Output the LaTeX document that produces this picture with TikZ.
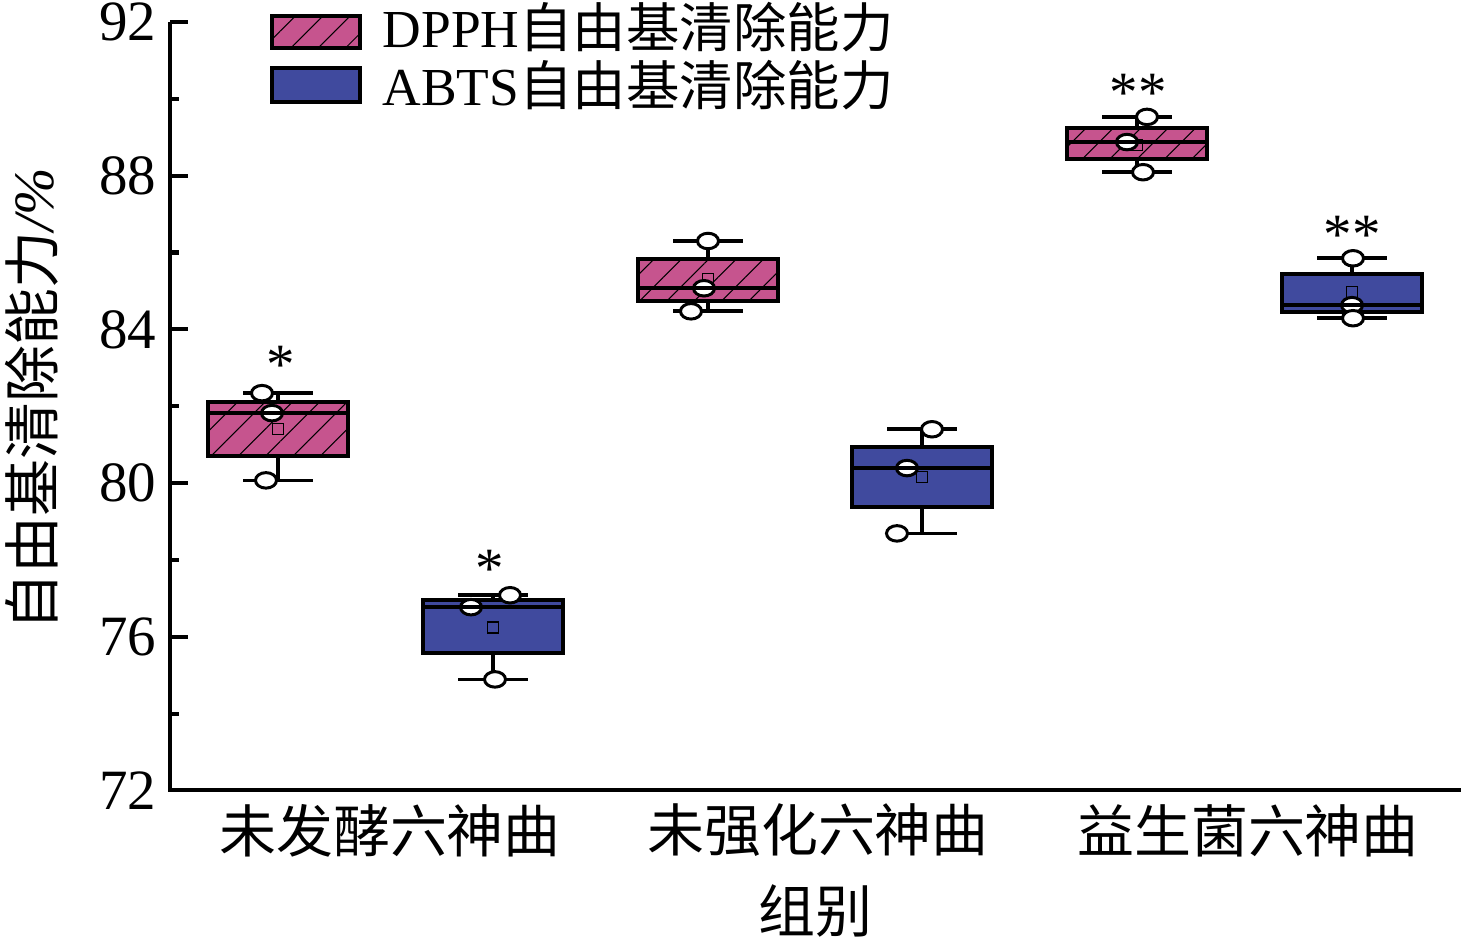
\documentclass[tikz,border=0pt]{standalone}
\usepackage{fontspec}
\setmainfont{Liberation Serif}
\newfontfamily\cjk{Noto Sans CJK SC}
\usepackage{xcolor}
\usepackage{tikz}
\usetikzlibrary{shapes.geometric}
\usetikzlibrary{patterns.meta}
\definecolor{dpphpink}{RGB}{198,84,142}
\definecolor{abtsblue}{RGB}{64,74,158}

% x, q1, q3, lower, upper, mean, box style
\newcommand{\bxbody}[7]{%
\draw[whisk] (#1,#3) -- (#1,#5) (#1-35,#5) -- (#1+35,#5);
\draw[whisk] (#1,#2) -- (#1,#4) (#1-35,#4) -- (#1+35,#4);
\draw[#7] (#1-70,#2) rectangle (#1+70,#3);
\node[meanmk] (m#1) at (#1,#6) {};
}
% x, median
\newcommand{\bxmed}[2]{\draw[medl] (#1-70,#2) -- (#1+70,#2);}

\begin{document}
\begin{tikzpicture}[x=0.01cm, y=0.384cm,
  every node/.style={font=\fontsize{16.2pt}{18pt}\selectfont},
  ax/.style={line width=1.15pt},
  whisk/.style={line width=1.05pt},
  medl/.style={line width=1.15pt},
  dbox/.style={draw, line width=1.15pt, preaction={fill=dpphpink}, pattern={Lines[angle=45,distance=5.5pt,line width=0.3pt]}},
  abox/.style={draw, line width=1.15pt, fill=abtsblue},
  obs/.style={ellipse, draw, fill=white, line width=0.85pt, minimum width=0.21cm, minimum height=0.155cm, inner sep=0pt},
  meanmk/.style={draw, line width=0.35pt, minimum size=0.11cm, inner sep=0pt},
  tlab/.style={anchor=east, inner sep=0pt},
  legtxt/.style={anchor=base west, inner sep=0pt, font=\fontsize{15.2pt}{18pt}\selectfont, text height=0.84em, text depth=0.06em},
  star/.style={anchor=base, inner sep=0pt}]
\useasboundingbox (0,68.094) rectangle (1461,92.573);

% axes
\draw[ax] (170,92) -- (170,72) -- (1461,72);
\draw[ax] (170,92) -- (188,92) (170,88) -- (188,88) (170,84) -- (188,84) (170,80) -- (188,80) (170,76) -- (188,76);
\draw[ax] (170,90) -- (179,90) (170,86) -- (179,86) (170,82) -- (179,82) (170,78) -- (179,78) (170,74) -- (179,74);
\node[tlab] (t92) at (157,92) {92};
\node[tlab] (t88) at (157,88) {88};
\node[tlab] (t84) at (157,84) {84};
\node[tlab] (t80) at (157,80) {80};
\node[tlab] (t76) at (157,76) {76};
\node[tlab] (t72) at (157,72) {72};
\node[rotate=90] (ylab) at (32,82.18) {{\cjk 自由基清除能力}\textit{/\%}};
\node (g1) at (390,70.96) {\cjk 未发酵六神曲};
\node (g2) at (818,70.96) {\cjk 未强化六神曲};
\node (g3) at (1248,70.96) {\cjk 益生菌六神曲};
\node (xlab) at (815,68.86) {\cjk 组别};

% legend
\draw[dbox] (272,92.156) rectangle (360,91.323);
\draw[abox] (272,90.802) rectangle (360,89.917);
\node[legtxt] (ldpph) at (382,91.323) {DPPH{\cjk 自由基清除能力}};
\node[legtxt] (labts) at (382,89.839) {ABTS{\cjk 自由基清除能力}};

% unfermented
\bxbody{278}{80.70}{82.10}{80.07}{82.34}{81.40}{dbox}
\node[obs] (p1a) at (262,82.34) {};
\node[obs] (p1b) at (272,81.82) {};
\node[obs] (p1c) at (266,80.07) {};
\bxmed{278}{81.82}
\bxbody{493}{75.57}{76.95}{74.89}{77.08}{76.24}{abox}
\node[obs] (p2a) at (510,77.08) {};
\node[obs] (p2b) at (471,76.77) {};
\node[obs] (p2c) at (495,74.89) {};
\bxmed{493}{76.77}
\node[star] (s1) at (281,82.583) {*};
\node[star] (s2) at (490,77.271) {*};

% not fortified
\bxbody{708}{84.73}{85.83}{84.47}{86.30}{85.31}{dbox}
\node[obs] (p3a) at (708,86.30) {};
\node[obs] (p3b) at (704,85.07) {};
\node[obs] (p3c) at (691,84.47) {};
\bxmed{708}{85.07}
\bxbody{922}{79.37}{80.93}{78.69}{81.40}{80.15}{abox}
\node[obs] (p4a) at (932,81.40) {};
\node[obs] (p4b) at (907,80.39) {};
\node[obs] (p4c) at (897,78.69) {};
\bxmed{922}{80.39}

% probiotic
\bxbody{1137}{88.43}{89.24}{88.09}{89.53}{88.80}{dbox}
\node[obs] (p5a) at (1147,89.53) {};
\node[obs] (p5b) at (1127,88.875) {};
\node[obs] (p5c) at (1143,88.09) {};
\bxmed{1137}{88.875}
\bxbody{1352}{84.45}{85.44}{84.29}{85.85}{84.97}{abox}
\node[obs] (p6a) at (1353,85.85) {};
\node[obs] (p6b) at (1352,84.63) {};
\node[obs] (p6c) at (1353,84.29) {};
\bxmed{1352}{84.63}
\node[star] (s3) at (1138,89.667) {**};
\node[star] (s4) at (1352,85.969) {**};
\end{tikzpicture}
\end{document}
